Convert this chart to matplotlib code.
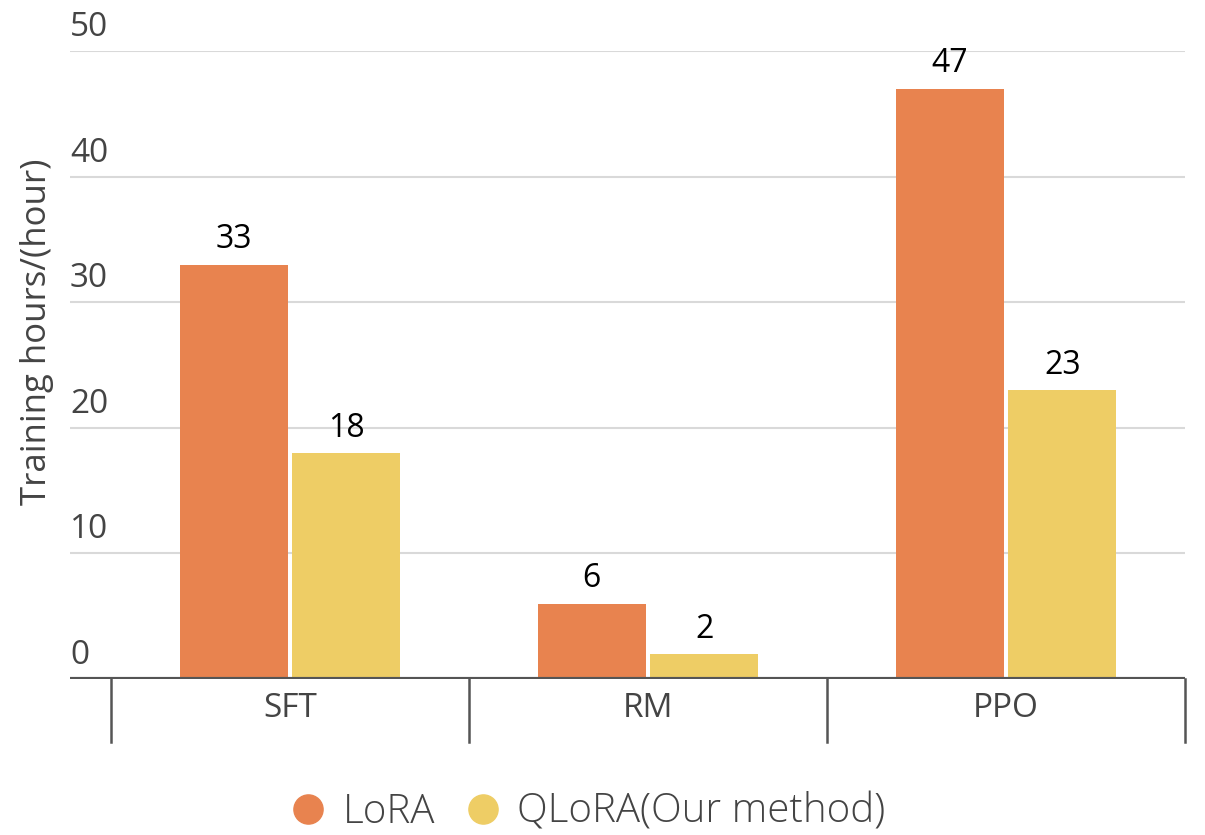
import matplotlib
matplotlib.use("Agg")
import matplotlib.pyplot as plt
from matplotlib.lines import Line2D
import numpy as np

# data
stages = ["SFT", "RM", "PPO"]
lora_hours = [33, 6, 47]
qlora_hours = [18, 2, 23]
series_names = ["LoRA", "QLoRA(Our method)"]
y_ticks = [0, 10, 20, 30, 40, 50]

lora_color = "#E8834F"
qlora_color = "#EECD65"
axis_grey = "#555555"
text_grey = "#444444"

fig = plt.figure(figsize=(12.05, 8.35), dpi=100)
ax = fig.add_axes([0.0581, 0.1868, 0.9253, 0.7521])

x = np.arange(len(stages))
w = 0.302
off = 0.157
b1 = ax.bar(x - off, lora_hours, w, color=lora_color, zorder=3)
b2 = ax.bar(x + off, qlora_hours, w, color=qlora_color, zorder=3)

for bars in (b1, b2):
    for rect in bars:
        h = rect.get_height()
        ax.annotate('%d' % int(h), (rect.get_x() + rect.get_width() / 2, h),
                    xytext=(0, 6), textcoords='offset points',
                    ha='center', va='bottom', fontsize=23,
                    family='Open Sans', color='black')

ax.set_xlim(-0.5 - 41 / 358, 2.5)
ax.set_ylim(0, 50)

# grid + y labels sitting above the lines
for v in y_ticks[1:]:
    ax.axhline(v, color="#d9d9d9", lw=1.5, zorder=1)
for v in y_ticks:
    ax.annotate(str(v), (0, v), xycoords=ax.get_yaxis_transform(),
                xytext=(0, 5), textcoords='offset points',
                ha='left', va='bottom', fontsize=24,
                family='Open Sans', color=text_grey)

for s in ax.spines.values():
    s.set_visible(False)
ax.axhline(0, color=axis_grey, lw=3, zorder=4)
ax.set_yticks([])
ax.set_xticks([])

# category separators below axis
for sep in np.arange(len(stages) + 1) - 0.5:
    ax.plot([sep, sep], [0, -5.0], color=axis_grey, lw=1.8,
            clip_on=False, zorder=4)
for xi, name in zip(x, stages):
    ax.annotate(name, (xi, 0), xytext=(0, -9), textcoords='offset points',
                ha='center', va='top', fontsize=24,
                family='Open Sans', color=text_grey)

ax.text(-0.03, 0.553, "Training hours/(hour)", transform=ax.transAxes,
        rotation=90, ha='center', va='center', fontsize=25,
        family='Open Sans', color=text_grey)

handles = [Line2D([], [], marker='o', ls='none', markersize=21,
                  markerfacecolor=c, markeredgecolor=c)
           for c in (lora_color, qlora_color)]
fig.legend(handles, series_names, loc='center', bbox_to_anchor=(0.487, 0.027),
           ncol=2, frameon=False, handletextpad=0.35, columnspacing=0.7,
           prop={'family': 'Open Sans', 'size': 29, 'weight': 'light'},
           labelcolor=text_grey, handlelength=1.0)

fig.savefig("out.png", dpi=100)
